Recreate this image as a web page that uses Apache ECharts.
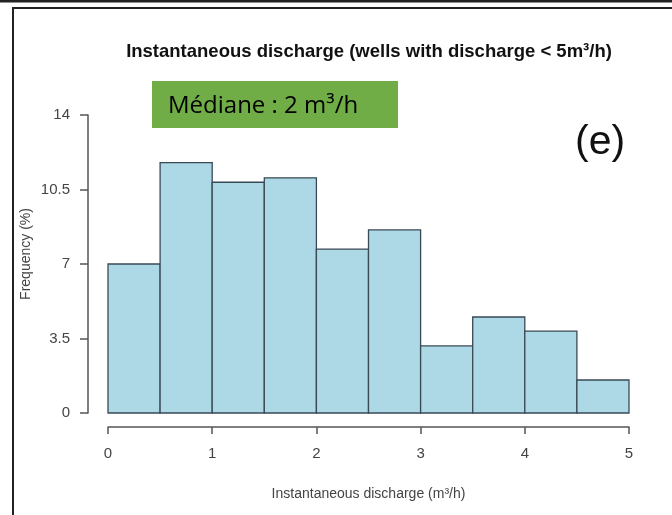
<!DOCTYPE html>
<html>
<head>
<meta charset="utf-8">
<script src="https://cdn.jsdelivr.net/npm/echarts@6/dist/echarts.min.js"></script>
<style>
  html, body { margin: 0; padding: 0; background: #fff; }
  #main { width: 672px; height: 515px; }
</style>
</head>
<body>
<div id="main"></div>
<script>
// histogram bins (m3/h) and frequencies (%)
var binStart = [0, 0.5, 1, 1.5, 2, 2.5, 3, 3.5, 4, 4.5]
var binEnd = [0.5, 1, 1.5, 2, 2.5, 3, 3.5, 4, 4.5, 5]
var freq = [7.0, 11.76, 10.84, 11.05, 7.7, 8.6, 3.15, 4.51, 3.85, 1.55]
var xTicks = [0, 1, 2, 3, 4, 5]
var yTicks = [0, 3.5, 7, 10.5, 14]

var data = []
binStart.forEach(function (s, i) {
  data.push([s, binEnd[i], freq[i]])
})

var axisGrey = '#555'
var labelGrey = '#444'

var myChart = echarts.init(document.getElementById('main'))
var option = {
  animation: false,
  textStyle: { fontFamily: 'Liberation Sans' },
  title: {
    text: 'Instantaneous discharge (wells with discharge < 5m³/h)',
    left: 364,
    textAlign: 'center',
    top: 37,
    textStyle: { fontSize: 18.5, fontWeight: 'bold', color: '#111', fontFamily: 'Liberation Sans' }
  },
  grid: {
    left: 108,
    right: 43,
    top: 115,
    bottom: 102
  },
  xAxis: {
    type: 'value',
    min: xTicks[0],
    max: xTicks[xTicks.length - 1],
    interval: 1,
    offset: 14,
    name: 'Instantaneous discharge (m³/h)',
    nameLocation: 'middle',
    nameGap: 60,
    nameTextStyle: { fontSize: 14, color: labelGrey },
    axisLine: { show: true, onZero: false, lineStyle: { color: axisGrey, width: 1.5 } },
    axisTick: { show: true, length: 7, lineStyle: { color: axisGrey, width: 1.5 } },
    axisLabel: { margin: 19, fontSize: 15, color: labelGrey },
    splitLine: { show: false }
  },
  yAxis: {
    type: 'value',
    min: yTicks[0],
    max: yTicks[yTicks.length - 1],
    interval: 3.5,
    offset: 20,
    axisLine: { show: true, onZero: false, lineStyle: { color: axisGrey, width: 1.5 } },
    axisTick: { show: true, length: 8, lineStyle: { color: axisGrey, width: 1.5 } },
    axisLabel: { margin: 18, fontSize: 15, color: labelGrey },
    splitLine: { show: false }
  },
  series: [
    {
      type: 'custom',
      data: data,
      encode: { x: [0, 1], y: 2 },
      renderItem: function (params, api) {
        var p0 = api.coord([api.value(0), 0])
        var p1 = api.coord([api.value(1), api.value(2)])
        return {
          type: 'rect',
          shape: { x: p0[0], y: p1[1], width: p1[0] - p0[0], height: p0[1] - p1[1] },
          style: { fill: '#add8e6', stroke: '#3a4a55', lineWidth: 1.3 }
        }
      }
    }
  ],
  graphic: [
    // outer frame lines
    { type: 'rect', z: 100, shape: { x: 0, y: 0, width: 672, height: 2.5 }, style: { fill: '#222' } },
    { type: 'rect', shape: { x: 13, y: 8, width: 700, height: 600 }, style: { fill: 'none', stroke: '#222', lineWidth: 2 } },
    // y axis title
    {
      type: 'text', x: 26, y: 254, rotation: Math.PI / 2,
      style: { text: 'Frequency (%)', fill: labelGrey, font: '14px "Liberation Sans"', textAlign: 'center', textVerticalAlign: 'middle' }
    },
    // median box
    { type: 'rect', shape: { x: 152, y: 81, width: 246, height: 47 }, style: { fill: '#70ad47' } },
    {
      type: 'text', x: 168, y: 106,
      style: { text: 'Médiane : 2 m³/h', fill: '#000', font: '24px "Open Sans"', textVerticalAlign: 'middle' }
    },
    {
      type: 'text', x: 575, y: 143,
      style: { text: '(e)', fill: '#111', font: '41px "Liberation Sans"', textVerticalAlign: 'middle' }
    }
  ]
}
myChart.setOption(option)
</script>
</body>
</html>
